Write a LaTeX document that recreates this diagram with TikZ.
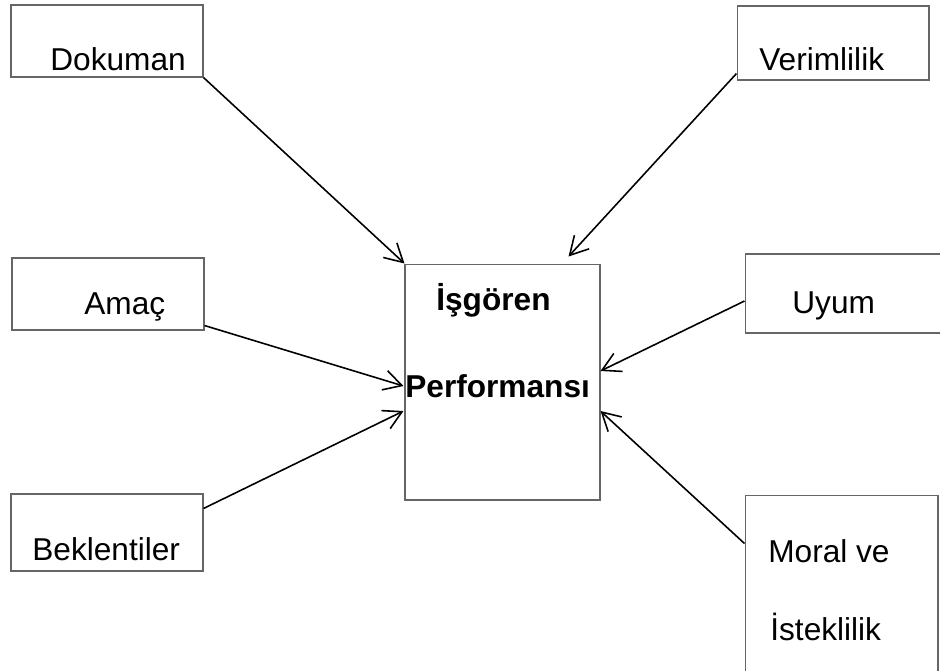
\documentclass[tikz,border=0pt]{standalone}
\usepackage{fontspec}
\setmainfont{Liberation Sans}
\usetikzlibrary{arrows.meta,calc}
\newcommand{\labelSize}{\fontsize{18}{21}\selectfont}
\newcommand{\boxWidth}{3.84cm}

\begin{document}
\begin{tikzpicture}[x=0.02cm, y=-0.02cm,
    factor/.style={draw=black!60, line width=0.6pt, minimum width=\boxWidth, minimum height=1.44cm, inner sep=0pt},
    factorText/.style={anchor=base west, inner sep=0pt, font=\labelSize},
    link/.style={line width=0.9pt, -{Straight Barb[length=0.36cm, width=0.4cm, line width=0.9pt]}}]
\clip (0,0) rectangle (940,670);
\fill[white] (0,0) rectangle (940,670);
% boxes
\node (dok) [factor] at (107,41) {};
\node (verim) [factor, minimum height=1.48cm] at (833,43) {};
\node (amac) [factor] at (108,294) {};
\node (uyum) [factor, minimum width=4cm, minimum height=1.58cm] at (845,293.5) {};
\node (bek) [factor, minimum height=1.54cm] at (107,532.5) {};
\node (moral) [factor, minimum width=3.86cm, minimum height=3.7cm] at (841.5,587.5) {};
\node (perf) [factor, minimum width=3.9cm, minimum height=4.72cm] at (502.5,382) {};
% texts
\node (dokText) [factorText] at (50,70) {Dokuman};
\node (verimText) [factorText] at (759,70) {Verimlilik};
\node (amacText) [factorText] at (84,314) {Amaç};
\node (uyumText) [factorText] at (792,313) {Uyum};
\node (bekText) [factorText] at (32,560) {Beklentiler};
\node (moralText) [factorText] at (768,562) {Moral ve};
\node (istekText) [factorText] at (770,640) {İsteklilik};
\node (perfTextA) [factorText, font=\labelSize\bfseries] at (436,310) {İşgören};
\node (perfTextB) [factorText, font=\labelSize\bfseries] at (405,397) {Performansı};
% arrows
\draw[link] (dok.south east) -- (perf.north west);
\draw[link] ($(verim.south west)+(0,-7)$) -- ($(perf.north east)+(-32,-7)$);
\draw[link] ($(amac.south east)+(0,-5)$) -- ($(perf.west)+(-1,4)$);
\draw[link] ($(bek.north east)+(0,15)$) -- ($(perf.west)+(-1,29)$);
\draw[link] ($(uyum.west)+(0,7.5)$) -- ($(perf.east)+(0,-11)$);
\draw[link] ($(moral.north west)+(0,49)$) -- ($(perf.east)+(0,29)$);
\end{tikzpicture}
\end{document}
